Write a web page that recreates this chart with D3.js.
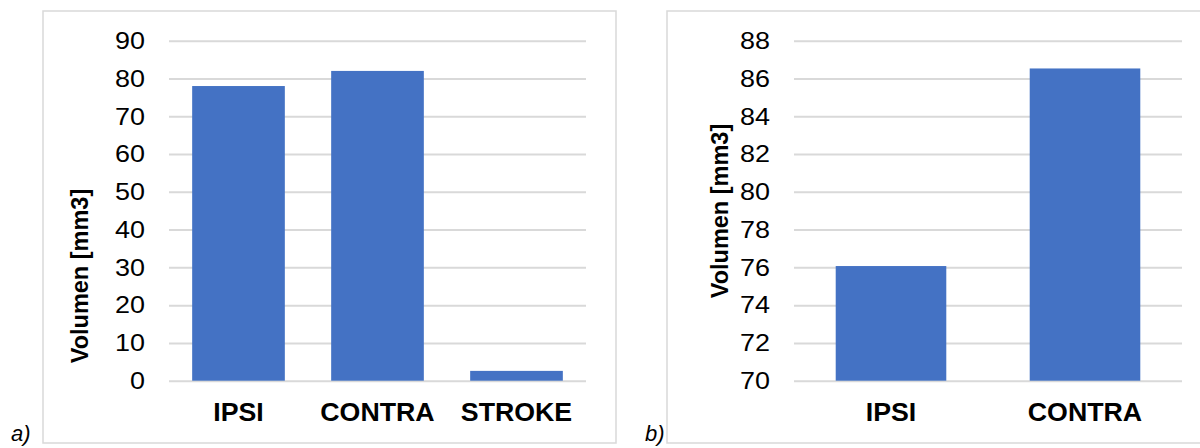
<!DOCTYPE html>
<html>
<head>
<meta charset="utf-8">
<script src="https://cdn.jsdelivr.net/npm/d3@7"></script>
<style>
  html, body { margin: 0; padding: 0; background: #fff; }
  svg { display: block; font-family: "Liberation Sans", Arial, sans-serif; }
</style>
</head>
<body>
<svg id="chart" width="1200" height="448"></svg>
<script>
// Panel a): volume per hemisphere incl. stroke region
const catsA = ["IPSI", "CONTRA", "STROKE"];
const valsA = [78, 82, 2.6];
const ticksA = [0, 10, 20, 30, 40, 50, 60, 70, 80, 90];

// Panel b): ipsi vs contra volume
const catsB = ["IPSI", "CONTRA"];
const valsB = [76.07, 86.53];
const ticksB = [70, 72, 74, 76, 78, 80, 82, 84, 86, 88];

const yTitle = "Volumen [mm3]";
const barColor = "#4472C4";
const gridColor = "#d9d9d9";
// slightly wide lettering
const tickStretch = 1.1;
const labelStretch = 1.07;

const svg = d3.select("#chart");

function panel(cfg) {
  const g = svg.append("g");

  // outer chart frame
  g.append("rect")
    .attr("x", cfg.frame[0]).attr("y", cfg.frame[1])
    .attr("width", cfg.frame[2]).attr("height", cfg.frame[3])
    .attr("fill", "#fff").attr("stroke", gridColor).attr("stroke-width", 1.5);

  const x = d3.scaleBand().domain(cfg.cats)
    .range([cfg.left, cfg.right]).paddingInner(cfg.pad).paddingOuter(cfg.pad / 2);
  const y = d3.scaleLinear().domain(cfg.domain).range([cfg.bottom, cfg.top]);

  // horizontal gridlines with value labels
  const yAxis = d3.axisLeft(y).tickValues(cfg.ticks)
    .tickSize(-(cfg.right - cfg.left)).tickPadding(24);
  const ya = g.append("g").attr("transform", `translate(${cfg.left},0)`).call(yAxis);
  ya.select(".domain").remove();
  ya.selectAll(".tick line").attr("stroke", gridColor).attr("stroke-width", 2);
  ya.selectAll(".tick text")
    .attr("x", -24 / tickStretch)
    .attr("transform", `scale(${tickStretch},1)`)
    .attr("font-size", 24.5).attr("fill", "#000")
    .attr("font-family", "'Liberation Sans', Arial, sans-serif");

  // bars
  g.selectAll("rect.bar").data(cfg.cats).enter().append("rect")
    .attr("class", "bar")
    .attr("x", d => x(d))
    .attr("width", x.bandwidth())
    .attr("y", (d, i) => y(cfg.vals[i]))
    .attr("height", (d, i) => y(cfg.domain[0]) - y(cfg.vals[i]))
    .attr("fill", barColor);

  // category labels
  const xAxis = d3.axisBottom(x).tickSize(0).tickPadding(0);
  const xa = g.append("g").attr("transform", `translate(0,${cfg.bottom})`).call(xAxis);
  xa.select(".domain").remove();
  xa.selectAll(".tick text")
    .attr("dy", null).attr("y", 40)
    .attr("transform", `scale(${labelStretch},1)`)
    .attr("font-size", 25).attr("font-weight", "bold").attr("fill", "#000")
    .attr("font-family", "'Liberation Sans', Arial, sans-serif");

  // y axis title
  g.append("text")
    .attr("transform", `translate(${cfg.titleX},${cfg.titleY}) rotate(-90)`)
    .attr("text-anchor", "middle")
    .attr("font-size", 23.5).attr("font-weight", "bold").attr("fill", "#000")
    .text(yTitle);

  // panel letter
  g.append("text")
    .attr("x", cfg.letterX).attr("y", 441)
    .attr("font-size", 22).attr("font-style", "italic").attr("fill", "#000")
    .text(cfg.letter);
}

panel({
  frame: [43, 11, 573, 432],
  left: 169, right: 586, top: 40.7, bottom: 380.7,
  cats: catsA, vals: valsA, domain: [0, 90], ticks: ticksA,
  pad: 1 / 3,
  titleX: 88, titleY: 276,
  letter: "a)", letterX: 11
});

panel({
  frame: [667, 11, 560, 432],
  left: 794, right: 1182, top: 40.7, bottom: 380.7,
  cats: catsB, vals: valsB, domain: [70, 88], ticks: ticksB,
  pad: 0.43,
  titleX: 728, titleY: 211,
  letter: "b)", letterX: 645
});
</script>
</body>
</html>
